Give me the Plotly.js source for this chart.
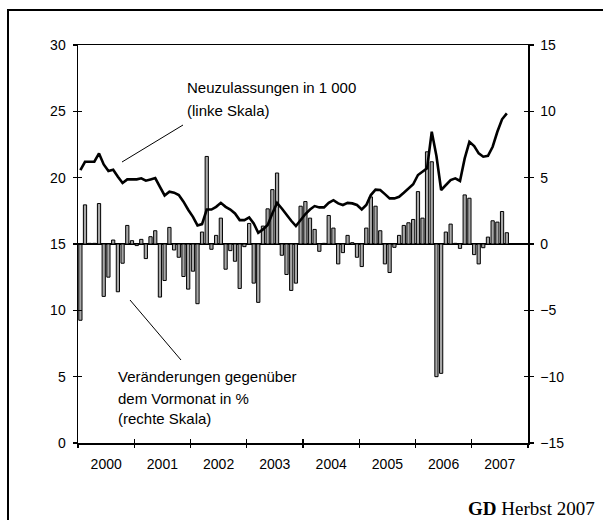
<!DOCTYPE html>
<html><head><meta charset="utf-8">
<script src="https://cdn.plot.ly/plotly-3.0.1.min.js"></script>
<style>html,body{margin:0;padding:0;background:#fff}</style>
</head><body>
<div id="chart" style="width:603px;height:520px"></div>
<script>
// Monthly categories Jan 2000 - Aug 2007
const months = [];
for (let y = 2000; y <= 2007; y++) {
  for (let m = 1; m <= 12; m++) {
    if (y === 2007 && m > 8) break;
    months.push(y + '-' + String(m).padStart(2, '0') + '-01');
  }
}

// Neuzulassungen in 1 000 (linke Skala)
const neuzulassungen = [
  20.57, 21.2, 21.2, 21.2, 21.83, 21.0, 20.5, 20.6, 20.07, 19.6, 19.87, 19.87,
  19.87, 19.95, 19.77, 19.87, 19.97, 19.3, 18.66, 18.94, 18.87, 18.69, 18.19, 17.58,
  17.05, 16.4, 16.5, 17.6, 17.6, 17.8, 18.1, 17.8, 17.6, 17.3, 16.8, 16.8,
  17.0, 16.55, 15.85, 16.1, 16.43, 17.3, 18.1, 17.68, 17.2, 16.75, 16.35, 16.8,
  17.26, 17.6, 17.86, 17.76, 17.76, 18.1, 18.3, 18.06, 17.94, 18.1, 18.06, 17.94,
  17.6, 17.94, 18.69, 19.1, 19.07, 18.76, 18.44, 18.44, 18.56, 18.86, 19.19, 19.5,
  20.2, 20.45, 20.7, 23.46, 21.63, 19.07, 19.44, 19.82, 19.95, 19.75, 21.45, 22.7,
  22.38, 21.83, 21.58, 21.65, 22.33, 23.46, 24.4, 24.85
];

// Veränderungen gegenüber dem Vormonat in % (rechte Skala)
const veraenderung = [
  -5.75, 2.95, 0.05, 0.05, 3.05, -3.95, -2.5, 0.3, -3.6, -1.45, 1.4, 0.25,
  -0.12, 0.35, -1.1, 0.55, 1.0, -4.0, -2.75, 1.25, -0.45, -1.0, -2.45, -3.4,
  -2.05, -4.5, 0.9, 6.6, -0.4, 0.65, 1.95, -1.9, -0.5, -1.3, -3.35, -0.2,
  1.55, -2.95, -4.4, 1.35, 2.65, 4.1, 5.35, -0.85, -2.3, -3.5, -2.95, 2.85,
  3.2, 1.95, 1.1, -0.55, 0.05, 2.15, 1.2, -1.5, -0.65, 0.65, 0.1, -1.0,
  -1.7, 1.2, 3.55, 2.85, 1.0, -1.5, -2.15, -0.25, 0.65, 1.4, 1.6, 1.85,
  3.95, 1.95, 6.95, 6.2, -10.0, -9.75, 0.9, 1.5, 0.05, -0.33, 3.7, 3.45,
  -0.8, -1.5, -0.28, 0.52, 1.75, 1.65, 2.45, 0.85
];

const years = ['2000', '2001', '2002', '2003', '2004', '2005', '2006', '2007'];
const yearMid = years.map(y => y + '-07-02');
const yearBounds = years.map(y => y + '-01-01').concat(['2008-01-01']);
const leftTicks = [0, 5, 10, 15, 20, 25, 30];
const rightTicks = [-15, -10, -5, 0, 5, 10, 15];

const xRange = ['2000-01-01', '2008-01-01'];
const DAY = 86400000;
const font = {family: 'Arial, "Liberation Sans", sans-serif', size: 14, color: '#000'};

const traces = [
  {type: 'bar', x: months, y: veraenderung, xperiod: 'M1', xperiodalignment: 'middle',
   width: 21 * DAY, marker: {color: '#a8a8a8', line: {color: '#000', width: 1}},
   xaxis: 'x', yaxis: 'y', hoverinfo: 'skip', showlegend: false},
  {type: 'scatter', mode: 'lines', x: months, y: neuzulassungen, xperiod: 'M1', xperiodalignment: 'middle',
   line: {color: '#000', width: 2.6}, xaxis: 'x', yaxis: 'y2', hoverinfo: 'skip', showlegend: false},
  {type: 'scatter', mode: 'markers', x: [months[0]], y: [null], xaxis: 'x2', yaxis: 'y3', hoverinfo: 'skip', showlegend: false},
  {type: 'scatter', mode: 'markers', x: [months[0]], y: [null], xaxis: 'x3', yaxis: 'y4', hoverinfo: 'skip', showlegend: false}
];

const L = 78, R = 528, T = 45, B = 443;
const px = v => (v - L) / (R - L);
const py = v => (B - v) / (B - T);

const baseX = {type: 'date', range: xRange, showgrid: false, zeroline: false, fixedrange: true};
const layout = {
  width: 603, height: 520,
  margin: {l: L, r: 603 - R, t: T, b: 520 - B},
  paper_bgcolor: '#fff', plot_bgcolor: 'rgba(0,0,0,0)',
  font: font, showlegend: false, bargap: 0,
  xaxis: Object.assign({}, baseX, {tickmode: 'array', tickvals: yearMid, ticktext: years,
    ticks: 'outside', ticklen: 8, tickcolor: 'rgba(0,0,0,0)', tickfont: font,
    showline: true, linecolor: '#000', linewidth: 1.5, mirror: true}),
  xaxis2: Object.assign({}, baseX, {overlaying: 'x', anchor: 'y', tickmode: 'array', tickvals: yearBounds,
    ticks: 'outside', ticklen: 4, tickwidth: 1.3, tickcolor: '#000', showticklabels: false, showline: false}),
  xaxis3: Object.assign({}, baseX, {overlaying: 'x', anchor: 'y', tickmode: 'array', tickvals: yearBounds,
    ticks: 'inside', ticklen: 4, tickwidth: 1.3, tickcolor: '#000', showticklabels: false, showline: false}),
  yaxis: {side: 'right', range: [-15, 15], tickmode: 'array', tickvals: rightTicks,
    ticks: 'outside', ticklen: 4, tickwidth: 1.3, tickcolor: '#000', tickfont: font, ticklabelstandoff: 4,
    showline: true, linecolor: '#000', linewidth: 1.5, showgrid: false,
    zeroline: true, zerolinecolor: '#000', zerolinewidth: 1.5, fixedrange: true},
  yaxis2: {overlaying: 'y', side: 'left', range: [0, 30], tickmode: 'array', tickvals: leftTicks,
    ticks: 'outside', ticklen: 4, tickwidth: 1.3, tickcolor: '#000', tickfont: font, ticklabelstandoff: 4,
    showline: true, linecolor: '#000', linewidth: 1.5, showgrid: false, zeroline: false, fixedrange: true},
  yaxis3: {overlaying: 'y', side: 'left', range: [0, 30], tickmode: 'array', tickvals: leftTicks,
    ticks: 'inside', ticklen: 4, tickwidth: 1.3, tickcolor: '#000', showticklabels: false,
    showline: false, showgrid: false, zeroline: false, fixedrange: true},
  yaxis4: {overlaying: 'y', side: 'right', range: [-15, 15], tickmode: 'array', tickvals: rightTicks,
    ticks: 'inside', ticklen: 4, tickwidth: 1.3, tickcolor: '#000', showticklabels: false,
    showline: false, showgrid: false, zeroline: false, fixedrange: true},
  shapes: [
    {type: 'rect', xref: 'paper', yref: 'paper', x0: px(8), x1: px(606), y0: py(524), y1: py(10),
     line: {color: '#000', width: 2}, fillcolor: 'rgba(0,0,0,0)'},
    {type: 'line', xref: 'paper', yref: 'paper', x0: px(183), y0: py(125), x1: px(122), y1: py(162),
     line: {color: '#000', width: 1}},
    {type: 'line', xref: 'paper', yref: 'paper', x0: px(130), y0: py(300), x1: px(181), y1: py(360),
     line: {color: '#000', width: 1}}
  ],
  annotations: [
    {xref: 'paper', yref: 'paper', x: px(185), y: py(87), xanchor: 'left', yanchor: 'middle',
     text: 'Neuzulassungen in 1 000', showarrow: false, font: Object.assign({}, font, {size: 15})},
    {xref: 'paper', yref: 'paper', x: px(185), y: py(110), xanchor: 'left', yanchor: 'middle',
     text: '(linke Skala)', showarrow: false, font: Object.assign({}, font, {size: 15})},
    {xref: 'paper', yref: 'paper', x: px(116), y: py(376), xanchor: 'left', yanchor: 'middle',
     text: 'Veränderungen gegenüber', showarrow: false, font: Object.assign({}, font, {size: 15})},
    {xref: 'paper', yref: 'paper', x: px(116), y: py(398), xanchor: 'left', yanchor: 'middle',
     text: 'dem Vormonat in %', showarrow: false, font: Object.assign({}, font, {size: 15})},
    {xref: 'paper', yref: 'paper', x: px(116), y: py(418), xanchor: 'left', yanchor: 'middle',
     text: '(rechte Skala)', showarrow: false, font: Object.assign({}, font, {size: 15})},
    {xref: 'paper', yref: 'paper', x: px(597), y: py(508), xanchor: 'right', yanchor: 'middle',
     text: '<b>GD</b> Herbst 2007', showarrow: false,
     font: {family: '"Liberation Serif", "Times New Roman", serif', size: 19, color: '#000'}}
  ]
};

Plotly.newPlot('chart', traces, layout, {displayModeBar: false, staticPlot: true});
</script>
</body></html>
